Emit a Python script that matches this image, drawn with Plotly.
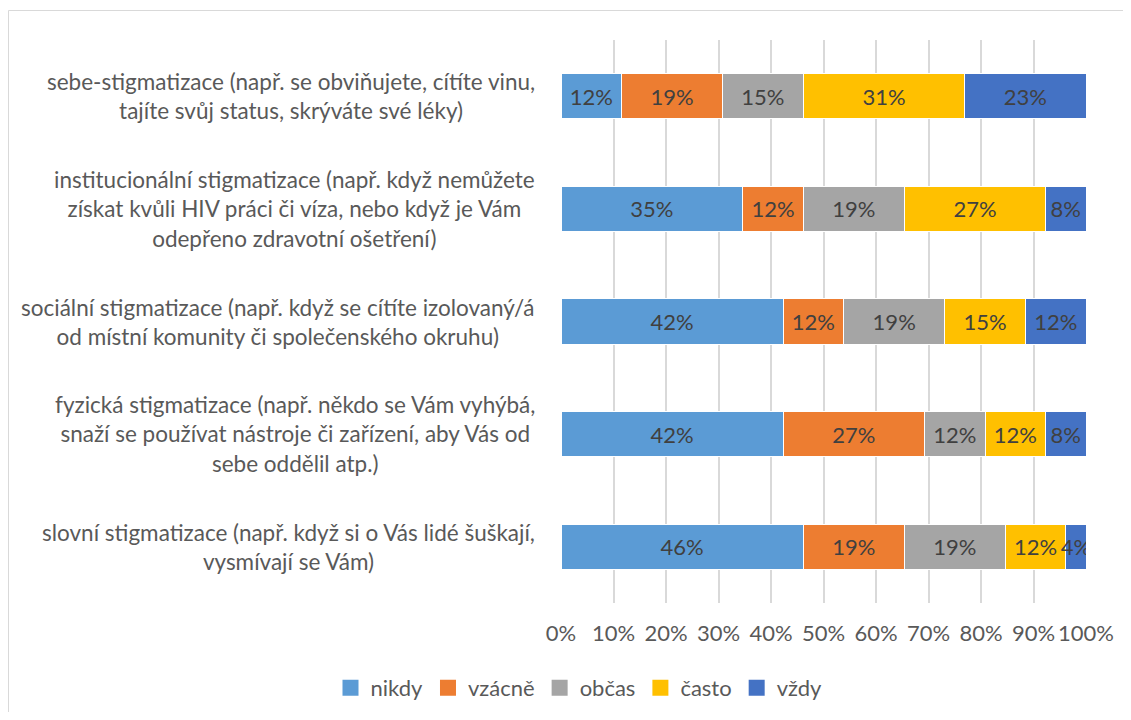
import plotly.graph_objects as go

categories = [
    "sebe-stigmatizace (např. se obviňujete, cítíte vinu,<br>tajíte svůj status, skrýváte své léky)",
    "institucionální stigmatizace (např. když nemůžete<br>získat kvůli HIV práci či víza, nebo když je Vám<br>odepřeno zdravotní ošetření)",
    "sociální stigmatizace (např. když se cítíte izolovaný/á<br>od místní komunity či společenského okruhu)",
    "fyzická stigmatizace (např. někdo se Vám vyhýbá,<br>snaží se používat nástroje či zařízení, aby Vás od<br>sebe oddělil atp.)",
    "slovní stigmatizace (např. když si o Vás lidé šuškají,<br>vysmívají se Vám)",
]
cat_ids = ["c1", "c2", "c3", "c4", "c5"]

series_names = ["nikdy", "vzácně", "občas", "často", "vždy"]
nikdy = [11.54, 34.62, 42.31, 42.31, 46.15]
vzacne = [19.23, 11.54, 11.54, 26.92, 19.23]
obcas = [15.38, 19.23, 19.23, 11.54, 19.23]
casto = [30.77, 26.92, 15.38, 11.54, 11.54]
vzdy = [23.08, 7.69, 11.54, 7.69, 3.85]
series_values = [nikdy, vzacne, obcas, casto, vzdy]
colors = ["#5B9BD5", "#ED7D31", "#A5A5A5", "#FFC000", "#4472C4"]

x_ticks = [0, 10, 20, 30, 40, 50, 60, 70, 80, 90, 100]
x_tick_labels = ["0%", "10%", "20%", "30%", "40%", "50%", "60%", "70%", "80%", "90%", "100%"]

FONT = "Lato"
TXT = "#595959"
FS = 22

fig = go.Figure()
for name, vals, col in zip(series_names, series_values, colors):
    fig.add_trace(go.Bar(
        y=cat_ids, x=vals, name=name, orientation="h", showlegend=False,
        legendgroup=name,
        marker=dict(color=col, line=dict(color="white", width=1)),
        texttemplate="%{x:.0f}%", textposition="inside", textangle=0,
        insidetextanchor="middle", constraintext="none",
        textfont=dict(family=FONT, size=FS, color="#404040"),
    ))
# legend entries with larger square swatches
for name, col in zip(series_names, colors):
    fig.add_trace(go.Scatter(
        x=[None], y=[None], mode="markers", name=name, legendgroup=name,
        marker=dict(symbol="square", size=16, color=col),
        hoverinfo="skip",
    ))

# page body has an 8px margin: figure origin sits at page (8, 8)
W, H = 1115, 704
L, R, T, B = 553, 37, 32, 109
pw = W - L - R
ph = H - T - B

annotations = []
for cid, lab in zip(cat_ids, categories):
    annotations.append(dict(
        x=-24 / pw, xref="paper", y=cid, yref="y",
        text=lab, showarrow=False, xanchor="right", yanchor="middle",
        align="center", font=dict(family=FONT, size=22.5, color=TXT),
    ))

fig.update_layout(
    width=W, height=H,
    barmode="stack", bargap=0.6,
    margin=dict(l=L, r=R, t=T, b=B, autoexpand=False),
    plot_bgcolor="white", paper_bgcolor="white",
    font=dict(family=FONT, color=TXT),
    xaxis=dict(range=[0, 100], tickvals=x_ticks, ticktext=x_tick_labels,
               showgrid=True, gridcolor="#D9D9D9", gridwidth=1.5,
               zeroline=False, showline=False, ticks="", ticklabelstandoff=15,
               tickfont=dict(family=FONT, size=FS, color=TXT)),
    yaxis=dict(categoryorder="array", categoryarray=cat_ids, autorange="reversed",
               showticklabels=False, showgrid=False, zeroline=False, ticks=""),
    legend=dict(orientation="h", x=571 / W, xref="container",
                xanchor="center", y=(H - 680) / H, yref="container", yanchor="middle",
                font=dict(family=FONT, size=FS, color=TXT), traceorder="normal",
                itemwidth=30),
    annotations=annotations,
    shapes=[dict(type="rect", xref="paper", yref="paper",
                 x0=(0.5 - L) / pw, x1=(W + 5 - L) / pw,
                 y0=-(B + 5) / ph, y1=(H - B - 2.5) / ph,
                 line=dict(color="#D9D9D9", width=1), fillcolor="rgba(0,0,0,0)",
                 layer="below")],
)

fig.write_html("out.html")
